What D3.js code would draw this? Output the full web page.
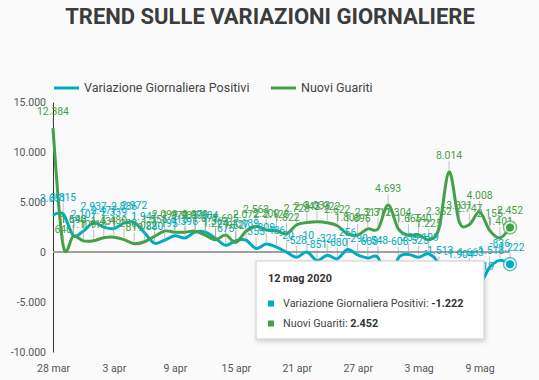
<!DOCTYPE html>
<html>
<head>
<meta charset="utf-8">
<script src="https://cdn.jsdelivr.net/npm/d3@7"></script>
<style>
  html, body { margin: 0; padding: 0; background: #fafafa; }
  svg { display: block; font-family: Roboto, "Noto Sans", sans-serif; }
</style>
</head>
<body>
<div id="chart"></div>
<script>
// Data
const dates = [
  "2020-03-28", "2020-03-29", "2020-03-30", "2020-03-31",
  "2020-04-01", "2020-04-02", "2020-04-03", "2020-04-04", "2020-04-05",
  "2020-04-06", "2020-04-07", "2020-04-08", "2020-04-09", "2020-04-10",
  "2020-04-11", "2020-04-12", "2020-04-13", "2020-04-14", "2020-04-15",
  "2020-04-16", "2020-04-17", "2020-04-18", "2020-04-19", "2020-04-20",
  "2020-04-21", "2020-04-22", "2020-04-23", "2020-04-24", "2020-04-25",
  "2020-04-26", "2020-04-27", "2020-04-28", "2020-04-29", "2020-04-30",
  "2020-05-01", "2020-05-02", "2020-05-03", "2020-05-04", "2020-05-05",
  "2020-05-06", "2020-05-07", "2020-05-08", "2020-05-09", "2020-05-10",
  "2020-05-11", "2020-05-12"
];

const variazionePositivi = [
  3651, 3815, 1648, 2107,
  2937, 2477, 2339, 2886, 2972, 1941, 880, 1195, 1615, 1396,
  1996, 1984, 1363, 675, 1127, 1189, 355, 809, 486, -20,
  -528, -10, -851, -321, -680, 256, -290, -608, -548, -3106,
  -608, -239, -525, -199, -1513, -6939, -1904, -1663, -3119, -1518, -836, -1222
];

const nuoviGuariti = [
  12384, 646, 1590, 1109,
  1118, 1431, 1480, 1238, 819, 1022, 1555, 2099, 1979, 1985,
  2079, 1677, 1224, 1695, 962, 2072, 2563, 2200, 2128, 1822,
  2723, 2943, 3033, 2922, 2622, 1808, 1696, 2317, 2311, 4693,
  2304, 1665, 1740, 1225, 2352, 8014, 3031, 2747, 4008, 2155, 1401, 2452
];

const yTicks = [-10000, -5000, 0, 5000, 10000, 15000];
const xTickDates = ["2020-03-28", "2020-04-03", "2020-04-09", "2020-04-15",
                    "2020-04-21", "2020-04-27", "2020-05-03", "2020-05-09"];

const seriesNames = ["Variazione Giornaliera Positivi", "Nuovi Guariti"];
const colors = ["#00acc1", "#43a047"];

const parse = d3.timeParse("%Y-%m-%d");
const mesi = ["gen", "feb", "mar", "apr", "mag", "giu", "lug", "ago", "set", "ott", "nov", "dic"];
const fmtNum = v => d3.format(",d")(v).replace(/,/g, ".").replace("−", "-");
const fmtDay = d => d.getDate() + " " + mesi[d.getMonth()];

const W = 539, H = 380;
const svg = d3.select("#chart").append("svg")
  .attr("width", W)
  .attr("height", H);

const defs = svg.append("defs");
const shadow = defs.append("filter").attr("id", "shadow")
  .attr("x", "-10%").attr("y", "-10%").attr("width", "130%").attr("height", "140%");
shadow.append("feDropShadow").attr("dx", 1).attr("dy", 2).attr("stdDeviation", 2)
  .attr("flood-color", "#000").attr("flood-opacity", 0.18);

const x = d3.scaleTime()
  .domain(d3.extent(dates, parse))
  .range([53, 510]);

const y = d3.scaleLinear()
  .domain([-10000, 15000])
  .range([352, 102]);

// Title
svg.append("text")
  .attr("x", 270)
  .attr("y", 24)
  .attr("text-anchor", "middle")
  .style("font-size", "22px")
  .style("font-weight", "bold")
  .style("fill", "#3c3c3c")
  .text("TREND SULLE VARIAZIONI GIORNALIERE");

// Legend
const legendX = [54, 271];
seriesNames.forEach((name, i) => {
  const g = svg.append("g").attr("transform", `translate(${legendX[i]},88)`);
  g.append("line")
    .attr("x1", 0).attr("x2", 25)
    .attr("stroke", colors[i]).attr("stroke-width", 3);
  g.append("text")
    .attr("x", 30).attr("dy", "0.35em")
    .style("font-size", "12.5px")
    .style("fill", "#444")
    .text(name);
});

// Y axis
const yAxis = svg.append("g")
  .attr("transform", "translate(53,0)")
  .call(d3.axisLeft(y).tickValues(yTicks).tickSize(0).tickPadding(7).tickFormat(fmtNum));
yAxis.select(".domain").attr("stroke", "#333");
yAxis.selectAll("text")
  .style("font-family", "Roboto, sans-serif")
  .style("font-size", "10.5px")
  .style("fill", "#555");

// Zero baseline
svg.append("line")
  .attr("x1", 53).attr("x2", 510)
  .attr("y1", y(0)).attr("y2", y(0))
  .attr("stroke", "#a0a0a0").attr("stroke-width", 2);

// X axis labels
const xAxis = svg.append("g")
  .attr("transform", "translate(0,362)")
  .call(d3.axisBottom(x).tickValues(xTickDates.map(parse)).tickSize(0).tickPadding(3).tickFormat(fmtDay));
xAxis.select(".domain").remove();
xAxis.selectAll("text")
  .style("font-family", "Roboto, sans-serif")
  .style("font-size", "10.5px")
  .style("fill", "#555");

// Lines
const allSeries = [variazionePositivi, nuoviGuariti];
const line = d3.line()
  .x((d, i) => x(parse(dates[i])))
  .y(d => y(d))
  .curve(d3.curveCardinal.tension(0));

allSeries.forEach((values, s) => {
  svg.append("path")
    .datum(values)
    .attr("fill", "none")
    .attr("stroke", colors[s])
    .attr("stroke-width", 3)
    .attr("d", line);
});

// Annotation stems
allSeries.forEach((values, s) => {
  svg.append("g").selectAll("line")
    .data(values)
    .enter()
    .append("line")
    .attr("x1", (d, i) => x(parse(dates[i])))
    .attr("x2", (d, i) => x(parse(dates[i])))
    .attr("y1", d => y(d) - 2)
    .attr("y2", d => y(d) - 11)
    .attr("stroke", "#999")
    .attr("stroke-opacity", 0.6)
    .attr("stroke-width", 1);
});

// Annotation labels
allSeries.forEach((values, s) => {
  svg.append("g").selectAll("text")
    .data(values)
    .enter()
    .append("text")
    .attr("x", (d, i) => x(parse(dates[i])))
    .attr("y", d => y(d) - 13)
    .attr("text-anchor", "middle")
    .style("font-size", "10.4px")
    .style("fill", colors[s])
    .text(d => fmtNum(d));
});

// Focused points (last day)
const last = dates.length - 1;
allSeries.forEach((values, s) => {
  const cx = x(parse(dates[last])), cy = y(values[last]);
  svg.append("circle")
    .attr("cx", cx).attr("cy", cy).attr("r", 6.5)
    .attr("fill", "#fff").attr("fill-opacity", 0.7)
    .attr("stroke", colors[s]).attr("stroke-opacity", 0.7).attr("stroke-width", 1.5);
  svg.append("circle")
    .attr("cx", cx).attr("cy", cy).attr("r", 4)
    .attr("fill", colors[s]);
});

// Tooltip
const tip = svg.append("g").attr("transform", "translate(256,261)");
tip.append("rect")
  .attr("width", 228).attr("height", 78)
  .attr("fill", "#fff")
  .attr("stroke", "#ccc").attr("stroke-width", 1)
  .attr("filter", "url(#shadow)");
const lastDate = parse(dates[last]);
tip.append("text")
  .attr("x", 12).attr("y", 21)
  .style("font-size", "10.8px")
  .style("font-weight", "bold")
  .style("fill", "#333")
  .text(fmtDay(lastDate) + " " + lastDate.getFullYear());
allSeries.forEach((values, s) => {
  const row = tip.append("g").attr("transform", `translate(12,${42.5 + s * 20})`);
  row.append("rect")
    .attr("x", 0).attr("y", -3).attr("width", 6).attr("height", 6)
    .attr("fill", colors[s]);
  const t = row.append("text")
    .attr("x", 15).attr("dy", "0.35em")
    .style("font-size", "10.8px")
    .style("fill", "#444");
  t.append("tspan").text(seriesNames[s] + ": ");
  t.append("tspan").style("font-weight", "bold").style("fill", "#333").text(fmtNum(values[last]));
});
</script>
</body>
</html>
